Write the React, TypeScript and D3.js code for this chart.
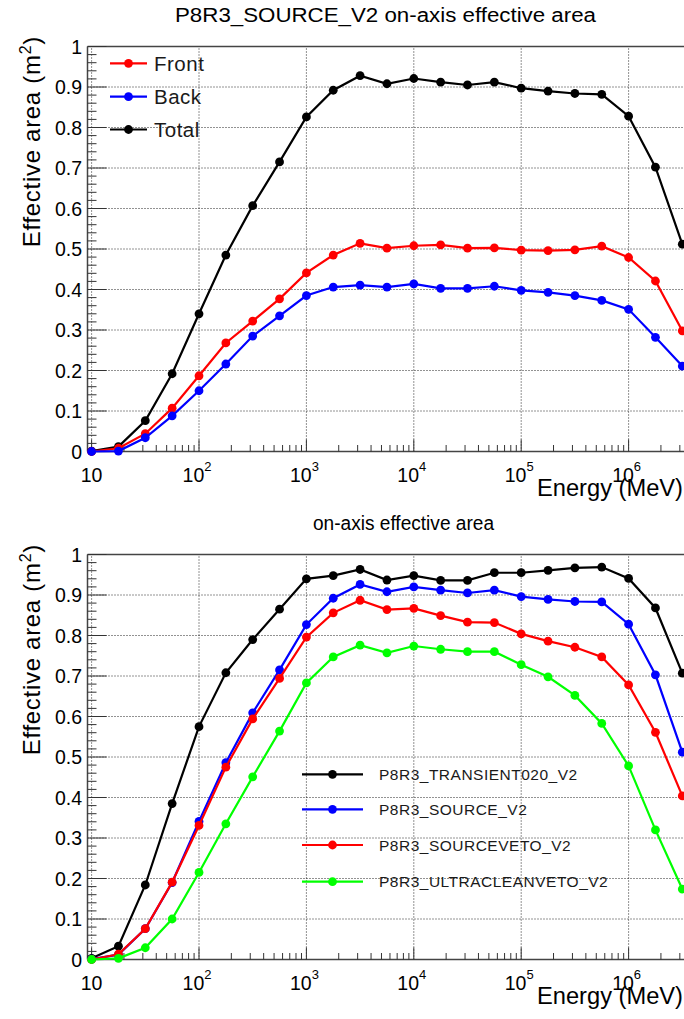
import React from "react";
import * as d3 from "d3";

const energies = [10, 17.78, 31.62, 56.23, 100, 177.8, 316.2, 562.3, 1000, 1778, 3162, 5623, 10000, 17783, 31623, 56234, 100000, 177828, 316228, 562341, 1000000, 1778279, 3162278];

const front = [0, 0.008, 0.044, 0.107, 0.187, 0.268, 0.322, 0.377, 0.441, 0.485, 0.514, 0.502, 0.508, 0.51, 0.502, 0.503, 0.497, 0.496, 0.498, 0.507, 0.479, 0.421, 0.298];
const back = [0, 0.001, 0.034, 0.088, 0.15, 0.216, 0.285, 0.335, 0.385, 0.406, 0.411, 0.406, 0.414, 0.403, 0.403, 0.408, 0.398, 0.393, 0.385, 0.373, 0.351, 0.282, 0.211];
const total = [0.001, 0.012, 0.076, 0.192, 0.34, 0.485, 0.607, 0.715, 0.826, 0.892, 0.928, 0.908, 0.921, 0.912, 0.905, 0.912, 0.897, 0.89, 0.884, 0.882, 0.828, 0.702, 0.512];

const transient020 = [0.003, 0.033, 0.184, 0.385, 0.575, 0.708, 0.79, 0.865, 0.94, 0.948, 0.963, 0.937, 0.948, 0.936, 0.936, 0.955, 0.955, 0.961, 0.967, 0.969, 0.941, 0.868, 0.707];
const sourceV2 = [0.001, 0.012, 0.076, 0.19, 0.341, 0.486, 0.609, 0.715, 0.827, 0.892, 0.926, 0.908, 0.92, 0.912, 0.905, 0.912, 0.896, 0.889, 0.884, 0.883, 0.828, 0.703, 0.512];
const sourceVeto = [0, 0.013, 0.076, 0.191, 0.331, 0.475, 0.594, 0.694, 0.796, 0.856, 0.887, 0.864, 0.867, 0.849, 0.833, 0.832, 0.804, 0.786, 0.771, 0.747, 0.678, 0.561, 0.404];
const ultraCleanVeto = [0, 0.003, 0.029, 0.1, 0.215, 0.335, 0.451, 0.564, 0.683, 0.747, 0.776, 0.757, 0.774, 0.766, 0.76, 0.76, 0.728, 0.698, 0.652, 0.583, 0.478, 0.32, 0.174];

const yTickLabels = ["0", "0.1", "0.2", "0.3", "0.4", "0.5", "0.6", "0.7", "0.8", "0.9", "1"];
const xDecades = [1, 2, 3, 4, 5, 6];

const topSeries = [
  { name: "Front", color: "#ff0000", values: front },
  { name: "Back", color: "#0000ff", values: back },
  { name: "Total", color: "#000000", values: total },
];
const bottomSeries = [
  { name: "P8R3_TRANSIENT020_V2", color: "#000000", values: transient020 },
  { name: "P8R3_SOURCE_V2", color: "#0000ff", values: sourceV2 },
  { name: "P8R3_SOURCEVETO_V2", color: "#ff0000", values: sourceVeto },
  { name: "P8R3_ULTRACLEANVETO_V2", color: "#00ff00", values: ultraCleanVeto },
];

const FONT = "'Liberation Sans', Arial, Helvetica, sans-serif";

type Series = { name: string; color: string; values: number[] };

function Panel(props: {
  off: number;
  title: string;
  titleX: number;
  titleLen: number;
  series: Series[];
  drawOrder: number[];
  legend: { x1: number; x2: number; tx: number; rows: number[]; size: number; ls: number };
}) {
  const { off, series, legend } = props;
  const x = d3.scaleLog().domain([10, Math.pow(10, 6.5)]).range([91.6, 682.3]);
  const y = d3.scaleLinear().domain([0, 1]).range([451.5 + off, 46.5 + off]);
  const frameL = 87.5;
  const frameR = 700;
  const y0 = y(0);
  const y1 = y(1);

  const line = d3
    .line<number>()
    .x((_, i) => x(energies[i]))
    .y((d) => y(d));

  const majorY = d3.range(0, 11).map((i) => i / 10);
  const minorY = d3.range(0, 51).map((i) => i / 50);
  const minorX: number[] = [];
  for (let e = 1; e <= 6; e++) {
    for (let m = 2; m <= 9; m++) {
      const v = m * Math.pow(10, e);
      if (v <= Math.pow(10, 6.55)) minorX.push(v);
    }
  }

  return (
    <g>
      <text x={props.titleX} y={22 + off} fontFamily={FONT} fontSize={20} textLength={props.titleLen} lengthAdjust="spacingAndGlyphs">
        {props.title}
      </text>
      {/* grid */}
      {majorY.slice(1, 10).map((v) => (
        <line key={"gy" + v} x1={frameL} x2={frameR} y1={y(v)} y2={y(v)} stroke="#000" strokeWidth={1} strokeDasharray="1,2" opacity={0.85} />
      ))}
      {xDecades.map((n) => (
        <line key={"gx" + n} x1={x(Math.pow(10, n))} x2={x(Math.pow(10, n))} y1={y0} y2={y1} stroke="#000" strokeWidth={1} strokeDasharray="1,2" opacity={0.85} />
      ))}
      {/* frame */}
      <line x1={frameL} x2={frameR} y1={y1} y2={y1} stroke="#444" strokeWidth={1.5} />
      <line x1={frameL} x2={frameR} y1={y0} y2={y0} stroke="#444" strokeWidth={1.5} />
      <line x1={frameL} x2={frameL} y1={y0} y2={y1} stroke="#444" strokeWidth={1.5} />
      {/* y ticks */}
      {minorY.map((v) => (
        <line key={"ty" + v} x1={frameL} x2={frameL + (Math.round(v * 50) % 5 === 0 ? 19 : 9)} y1={y(v)} y2={y(v)} stroke="#333" strokeWidth={1} />
      ))}
      {/* x ticks */}
      {xDecades.map((n) => (
        <line key={"tx" + n} x1={x(Math.pow(10, n))} x2={x(Math.pow(10, n))} y1={y0} y2={y0 - 12} stroke="#333" strokeWidth={1} />
      ))}
      {minorX.map((v) => (
        <line key={"mx" + v} x1={x(v)} x2={x(v)} y1={y0} y2={y0 - 6.5} stroke="#333" strokeWidth={1} />
      ))}
      {/* y labels */}
      {majorY.map((v, i) => (
        <text key={"ly" + i} x={82} y={y(v) + 7} textAnchor="end" fontFamily={FONT} fontSize={19.5}>
          {yTickLabels[i]}
        </text>
      ))}
      {/* x labels */}
      {xDecades.map((n) => (
        <text key={"lx" + n} x={x(Math.pow(10, n)) - (n === 1 ? 0 : 2)} y={482 + off} textAnchor="middle" fontFamily={FONT} fontSize={19.5}>
          10
          {n === 1 ? null : (
            <tspan dy={-11} fontSize={13}>
              {String(n)}
            </tspan>
          )}
        </text>
      ))}
      {/* axis titles */}
      <text x={683} y={496 + off} textAnchor="end" fontFamily={FONT} fontSize={23} textLength={146} lengthAdjust="spacingAndGlyphs">
        Energy (MeV)
      </text>
      <text transform={`translate(40,${36 + off}) rotate(-90)`} textAnchor="end" fontFamily={FONT} fontSize={24} letterSpacing={0.7}>
        Effective area (m
        <tspan dy={-9} fontSize={16}>2</tspan>
        <tspan dy={9}>)</tspan>
      </text>
      {/* series */}
      {props.drawOrder.map((k) => {
        const s = series[k];
        return (
          <g key={s.name}>
            <path d={line(s.values) || ""} fill="none" stroke={s.color} strokeWidth={2.2} />
            {s.values.map((v, i) => (
              <circle key={i} cx={x(energies[i])} cy={y(v)} r={4.4} fill={s.color} />
            ))}
          </g>
        );
      })}
      {/* legend */}
      {series.map((s, i) => (
        <g key={"lg" + s.name}>
          <line x1={legend.x1} x2={legend.x2} y1={legend.rows[i] + off} y2={legend.rows[i] + off} stroke={s.color} strokeWidth={2.2} />
          <circle cx={(legend.x1 + legend.x2) / 2} cy={legend.rows[i] + off} r={4.4} fill={s.color} />
          <text x={legend.tx} y={legend.rows[i] + off + legend.size * 0.36} fontFamily={FONT} fontSize={legend.size} letterSpacing={legend.ls} fill="#1a1a1a">
            {s.name}
          </text>
        </g>
      ))}
    </g>
  );
}

export default function App() {
  return (
    <svg width={684} height={1019} style={{ position: "absolute", left: 0, top: 0, background: "#fff" }}>
      <rect x={0} y={0} width={684} height={1019} fill="#fff" />
      <Panel
        off={0}
        title="P8R3_SOURCE_V2 on-axis effective area"
        titleX={175}
        titleLen={421}
        series={topSeries}
        drawOrder={[2, 0, 1]}
        legend={{ x1: 110, x2: 147, tx: 154, rows: [63.3, 96.7, 129.5], size: 20.5, ls: 0.5 }}
      />
      <Panel
        off={508}
        title="on-axis effective area"
        titleX={313}
        titleLen={181}
        series={bottomSeries}
        drawOrder={[0, 1, 2, 3]}
        legend={{ x1: 302, x2: 363, tx: 379, rows: [266.3, 301.3, 337, 373.7], size: 15.5, ls: 0.5 }}
      />
    </svg>
  );
}
